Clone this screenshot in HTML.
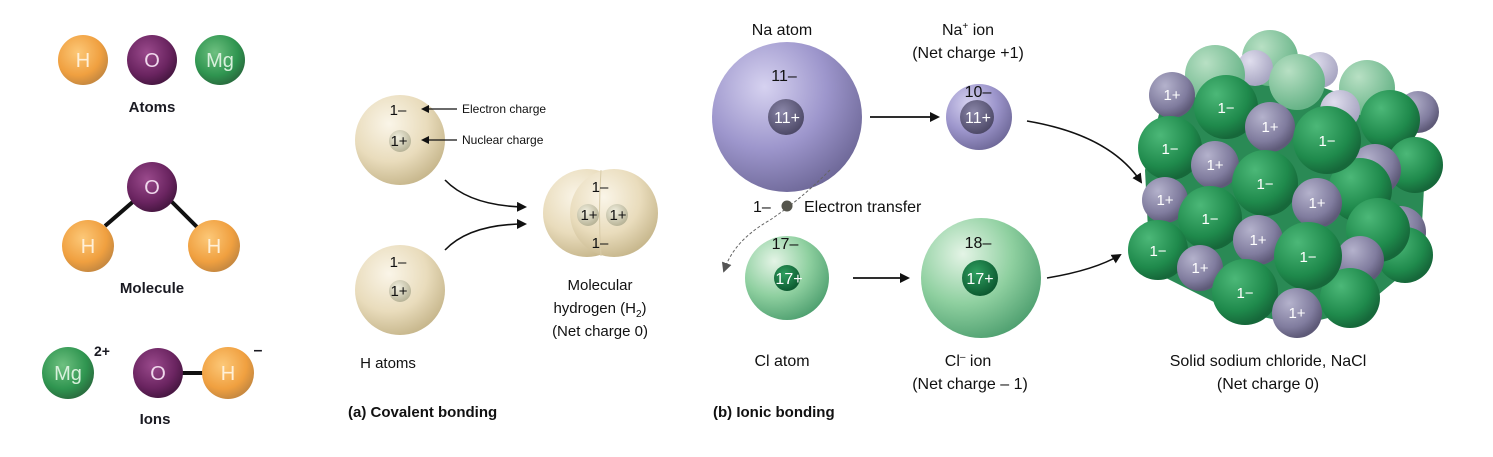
<!DOCTYPE html>
<html><head><meta charset="utf-8"><style>
html,body{margin:0;padding:0;background:#fff;}
svg{display:block;font-family:"Liberation Sans",sans-serif;}
</style></head><body>
<svg width="1493" height="457" viewBox="0 0 1493 457" xmlns="http://www.w3.org/2000/svg">
<defs>
<radialGradient id="or" cx="40%" cy="35%" r="65%"><stop offset="0" stop-color="#fcc878"/><stop offset="0.7" stop-color="#f0a040"/><stop offset="1" stop-color="#c98a40"/></radialGradient>
<radialGradient id="pu" cx="40%" cy="35%" r="65%"><stop offset="0" stop-color="#9a4a8c"/><stop offset="0.7" stop-color="#6a2460"/><stop offset="1" stop-color="#4a1844"/></radialGradient>
<radialGradient id="gr" cx="40%" cy="35%" r="65%"><stop offset="0" stop-color="#6ec080"/><stop offset="0.7" stop-color="#2f9550"/><stop offset="1" stop-color="#2a7040"/></radialGradient>
<radialGradient id="cream" cx="38%" cy="32%" r="70%"><stop offset="0" stop-color="#faf5e8"/><stop offset="0.6" stop-color="#e9dcbc"/><stop offset="1" stop-color="#c8b88e"/></radialGradient>
<radialGradient id="nuc" cx="40%" cy="35%" r="65%"><stop offset="0" stop-color="#f2f0e0"/><stop offset="1" stop-color="#b8b498"/></radialGradient>
<radialGradient id="na" cx="35%" cy="30%" r="75%"><stop offset="0" stop-color="#d6d2f0"/><stop offset="0.55" stop-color="#9d96cc"/><stop offset="1" stop-color="#6e6898"/></radialGradient>
<radialGradient id="nanuc" cx="40%" cy="35%" r="65%"><stop offset="0" stop-color="#8a86a8"/><stop offset="1" stop-color="#4e4a68"/></radialGradient>
<radialGradient id="cl" cx="35%" cy="30%" r="75%"><stop offset="0" stop-color="#e4f4e6"/><stop offset="0.55" stop-color="#8fd0a0"/><stop offset="1" stop-color="#4fa070"/></radialGradient>
<radialGradient id="clnuc" cx="40%" cy="35%" r="65%"><stop offset="0" stop-color="#30a060"/><stop offset="1" stop-color="#0c5a30"/></radialGradient>
<radialGradient id="cg" cx="35%" cy="30%" r="70%"><stop offset="0" stop-color="#4cb878"/><stop offset="0.7" stop-color="#1f8a4c"/><stop offset="1" stop-color="#16683a"/></radialGradient>
<radialGradient id="cgl" cx="35%" cy="30%" r="70%"><stop offset="0" stop-color="#b8e0c4"/><stop offset="1" stop-color="#68b488"/></radialGradient>
<radialGradient id="cp" cx="35%" cy="30%" r="70%"><stop offset="0" stop-color="#b4b2cc"/><stop offset="0.7" stop-color="#807c9e"/><stop offset="1" stop-color="#5e5a78"/></radialGradient>
<radialGradient id="cpl" cx="35%" cy="30%" r="70%"><stop offset="0" stop-color="#e0deee"/><stop offset="1" stop-color="#a8a6c2"/></radialGradient>
<marker id="ah" markerWidth="10" markerHeight="10" refX="8" refY="5" orient="auto" markerUnits="userSpaceOnUse"><path d="M0,0 L10,5 L0,10 z" fill="#111"/></marker>
<marker id="ahs" markerWidth="8" markerHeight="8" refX="6" refY="4" orient="auto" markerUnits="userSpaceOnUse"><path d="M0,0 L8,4 L0,8 z" fill="#111"/></marker>
<marker id="ahg" markerWidth="10" markerHeight="10" refX="5" refY="5" orient="auto" markerUnits="userSpaceOnUse"><path d="M0,0 L10,5 L0,10 z" fill="#555"/></marker>
</defs>

<g font-size="20" fill="#fff" text-anchor="middle">
<circle cx="83" cy="60" r="25" fill="url(#or)"/><text x="83" y="67" fill="#fff0d8">H</text>
<circle cx="152" cy="60" r="25" fill="url(#pu)"/><text x="152" y="67" fill="#f0d8ec">O</text>
<circle cx="220" cy="60" r="25" fill="url(#gr)"/><text x="220" y="67" fill="#d8f0dc">Mg</text>
<line x1="105" y1="226" x2="135" y2="200" stroke="#111" stroke-width="4"/>
<line x1="170" y1="200" x2="198" y2="228" stroke="#111" stroke-width="4"/>
<circle cx="152" cy="187" r="25" fill="url(#pu)"/><text x="152" y="194" fill="#f0d8ec">O</text>
<circle cx="88" cy="246" r="26" fill="url(#or)"/><text x="88" y="253" fill="#fff0d8">H</text>
<circle cx="214" cy="246" r="26" fill="url(#or)"/><text x="214" y="253" fill="#fff0d8">H</text>
<circle cx="68" cy="373" r="26" fill="url(#gr)"/><text x="68" y="380" fill="#d8f0dc">Mg</text>
<line x1="180" y1="373" x2="205" y2="373" stroke="#111" stroke-width="4"/>
<circle cx="158" cy="373" r="25" fill="url(#pu)"/><text x="158" y="380" fill="#f0d8ec">O</text>
<circle cx="228" cy="373" r="26" fill="url(#or)"/><text x="228" y="380" fill="#fff0d8">H</text>
</g>
<g font-size="15" font-weight="bold" fill="#1a1a22" text-anchor="middle">
<text x="152" y="112">Atoms</text>
<text x="152" y="293">Molecule</text>
<text x="155" y="424">Ions</text>
<text x="102" y="356" font-size="14">2+</text>
<text x="258" y="355" font-size="16">–</text>
</g>

<g font-size="15" fill="#111" text-anchor="middle">
<circle cx="400" cy="140" r="45" fill="url(#cream)"/>
<circle cx="400" cy="141" r="11" fill="url(#nuc)"/>
<text x="398" y="115">1–</text><text x="399" y="146">1+</text>
<circle cx="400" cy="290" r="45" fill="url(#cream)"/>
<circle cx="400" cy="291" r="11" fill="url(#nuc)"/>
<text x="398" y="267">1–</text><text x="399" y="296">1+</text>
<circle cx="587" cy="213" r="44" fill="url(#cream)"/>
<circle cx="614" cy="213" r="44" fill="url(#cream)"/>
<path d="M601,170 Q598,213 601,256" stroke="#d8cba8" stroke-width="1" fill="none"/>
<circle cx="588" cy="215" r="11" fill="url(#nuc)"/>
<circle cx="617" cy="215" r="11" fill="url(#nuc)"/>
<text x="600" y="192">1–</text><text x="589" y="220">1+</text><text x="618" y="220">1+</text><text x="600" y="248">1–</text>
<text x="600" y="290">Molecular</text>
<text x="600" y="313">hydrogen (H<tspan font-size="10" dy="4">2</tspan><tspan dy="-4">)</tspan></text>
<text x="600" y="336">(Net charge 0)</text>
<text x="388" y="368">H atoms</text>
</g>
<g font-size="12" fill="#111">
<line x1="457" y1="109" x2="423" y2="109" stroke="#111" stroke-width="1.3" marker-end="url(#ahs)"/>
<line x1="457" y1="140" x2="423" y2="140" stroke="#111" stroke-width="1.3" marker-end="url(#ahs)"/>
<text x="462" y="113">Electron charge</text>
<text x="462" y="144">Nuclear charge</text>
</g>
<path d="M445,180 Q470,206 525,207" stroke="#111" stroke-width="1.6" fill="none" marker-end="url(#ah)"/>
<path d="M445,250 Q470,224 525,224" stroke="#111" stroke-width="1.6" fill="none" marker-end="url(#ah)"/>
<text x="348" y="417" font-size="15" font-weight="bold" fill="#111">(a) Covalent bonding</text>

<g font-size="16" fill="#111" text-anchor="middle">
<circle cx="787" cy="117" r="75" fill="url(#na)"/>
<circle cx="786" cy="117" r="18" fill="url(#nanuc)"/>
<text x="784" y="81">11–</text><text x="787" y="123" fill="#fff">11+</text>
<circle cx="979" cy="117" r="33" fill="url(#na)"/>
<circle cx="977" cy="117" r="17" fill="url(#nanuc)"/>
<text x="978" y="97">10–</text><text x="978" y="123" fill="#fff">11+</text>
<circle cx="787" cy="278" r="42" fill="url(#cl)"/>
<circle cx="787" cy="278" r="13" fill="url(#clnuc)"/>
<text x="785" y="249">17–</text><text x="789" y="284" fill="#fff">17+</text>
<circle cx="981" cy="278" r="60" fill="url(#cl)"/>
<circle cx="980" cy="278" r="18" fill="url(#clnuc)"/>
<text x="978" y="248">18–</text><text x="980" y="284" fill="#fff">17+</text>
<text x="782" y="35">Na atom</text>
<text x="968" y="35">Na<tspan font-size="10" dy="-6">+</tspan><tspan dy="6"> ion</tspan></text>
<text x="968" y="58">(Net charge +1)</text>
<text x="782" y="366">Cl atom</text>
<text x="968" y="366">Cl<tspan font-size="10" dy="-6">–</tspan><tspan dy="6"> ion</tspan></text>
<text x="970" y="389">(Net charge – 1)</text>
</g>
<line x1="870" y1="117" x2="938" y2="117" stroke="#111" stroke-width="1.8" marker-end="url(#ah)"/>
<line x1="853" y1="278" x2="908" y2="278" stroke="#111" stroke-width="1.8" marker-end="url(#ah)"/>
<path d="M830,170 Q800,200 770,220 Q735,240 725,268" stroke="#666" stroke-width="1" stroke-dasharray="3,2" fill="none" marker-end="url(#ahg)"/>
<circle cx="787" cy="206" r="5.5" fill="#55554c"/>
<text x="753" y="212" font-size="16" fill="#111">1–</text>
<text x="804" y="212" font-size="16" fill="#111">Electron transfer</text>
<path d="M1027,121 Q1110,135 1141,182" stroke="#111" stroke-width="1.6" fill="none" marker-end="url(#ah)"/>
<path d="M1047,278 Q1095,270 1120,255" stroke="#111" stroke-width="1.6" fill="none" marker-end="url(#ah)"/>
<text x="713" y="417" font-size="15" font-weight="bold" fill="#111">(b) Ionic bonding</text>

<g font-size="15" fill="#fff" text-anchor="middle">
<polygon points="1160,110 1230,70 1300,80 1390,110 1425,170 1420,260 1360,310 1300,325 1230,310 1150,270 1145,170" fill="#2a8a55"/>
<circle cx="1270" cy="58" r="28" fill="url(#cgl)"/>
<circle cx="1255" cy="68" r="18" fill="url(#cpl)"/>
<circle cx="1320" cy="70" r="18" fill="url(#cpl)"/>
<circle cx="1215" cy="75" r="30" fill="url(#cgl)"/>
<circle cx="1297" cy="82" r="28" fill="url(#cgl)"/>
<circle cx="1367" cy="88" r="28" fill="url(#cgl)"/>
<circle cx="1418" cy="112" r="21" fill="url(#cp)"/>
<circle cx="1340" cy="110" r="20" fill="url(#cpl)"/>
<circle cx="1390" cy="120" r="30" fill="url(#cg)"/>
<circle cx="1415" cy="165" r="28" fill="url(#cg)"/>
<circle cx="1400" cy="232" r="26" fill="url(#cp)"/>
<circle cx="1405" cy="255" r="28" fill="url(#cg)"/>
<circle cx="1375" cy="170" r="26" fill="url(#cp)"/>
<circle cx="1360" cy="190" r="32" fill="url(#cg)"/>
<circle cx="1378" cy="230" r="32" fill="url(#cg)"/>
<circle cx="1360" cy="260" r="24" fill="url(#cp)"/>
<circle cx="1350" cy="298" r="30" fill="url(#cg)"/>
<circle cx="1172" cy="95" r="23" fill="url(#cp)"/><text x="1172" y="100">1+</text>
<circle cx="1226" cy="107" r="32" fill="url(#cg)"/><text x="1226" y="113">1−</text>
<circle cx="1270" cy="127" r="25" fill="url(#cp)"/><text x="1270" y="132">1+</text>
<circle cx="1327" cy="140" r="34" fill="url(#cg)"/><text x="1327" y="146">1−</text>
<circle cx="1170" cy="148" r="32" fill="url(#cg)"/><text x="1170" y="154">1−</text>
<circle cx="1215" cy="165" r="24" fill="url(#cp)"/><text x="1215" y="170">1+</text>
<circle cx="1265" cy="183" r="33" fill="url(#cg)"/><text x="1265" y="189">1−</text>
<circle cx="1317" cy="203" r="25" fill="url(#cp)"/><text x="1317" y="208">1+</text>
<circle cx="1165" cy="200" r="23" fill="url(#cp)"/><text x="1165" y="205">1+</text>
<circle cx="1210" cy="218" r="32" fill="url(#cg)"/><text x="1210" y="224">1−</text>
<circle cx="1258" cy="240" r="25" fill="url(#cp)"/><text x="1258" y="245">1+</text>
<circle cx="1308" cy="256" r="34" fill="url(#cg)"/><text x="1308" y="262">1−</text>
<circle cx="1158" cy="250" r="30" fill="url(#cg)"/><text x="1158" y="256">1−</text>
<circle cx="1200" cy="268" r="23" fill="url(#cp)"/><text x="1200" y="273">1+</text>
<circle cx="1245" cy="292" r="33" fill="url(#cg)"/><text x="1245" y="298">1−</text>
<circle cx="1297" cy="313" r="25" fill="url(#cp)"/><text x="1297" y="318">1+</text>
</g>
<g font-size="16" fill="#111" text-anchor="middle">
<text x="1268" y="366">Solid sodium chloride, NaCl</text>
<text x="1268" y="389">(Net charge 0)</text>
</g>
</svg>
</body></html>
